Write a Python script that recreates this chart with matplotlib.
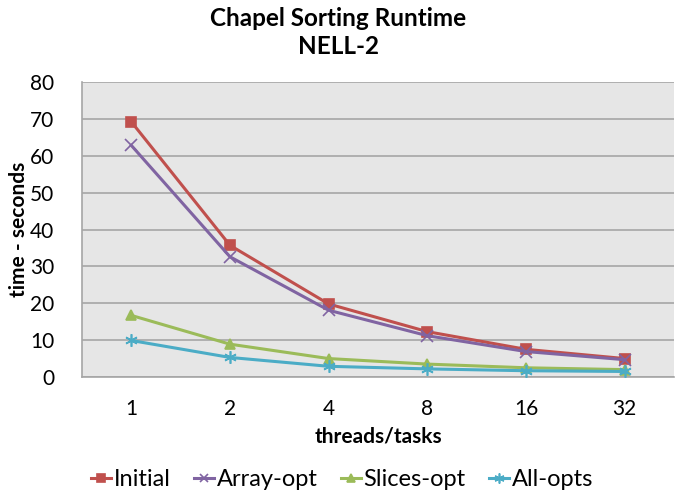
import matplotlib
matplotlib.use("Agg")
import matplotlib.pyplot as plt
import numpy as np

categories = ["1", "2", "4", "8", "16", "32"]
initial = [69.2, 35.7, 19.8, 12.3, 7.5, 5.0]
array_opt = [62.8, 32.6, 18.1, 11.2, 6.9, 4.7]
slices_opt = [16.7, 8.9, 5.0, 3.5, 2.5, 2.0]
all_opts = [9.9, 5.3, 2.9, 2.2, 1.7, 1.5]
y_ticks = [0, 10, 20, 30, 40, 50, 60, 70, 80]

plt.rcParams['font.family'] = ['Lato', 'DejaVu Sans']

fig = plt.figure(figsize=(6.83, 4.97), dpi=100)
ax = fig.add_axes([82/683, 1-377/497, (674-82)/683, (377-82)/497])
ax.set_facecolor('#e6e6e6')

x = np.arange(len(categories))
series = [
    ("Initial", initial, '#C0504D', 's', 7),
    ("Array-opt", array_opt, '#8064A2', 'x', 8),
    ("Slices-opt", slices_opt, '#9BBB59', '^', 7),
    ("All-opts", all_opts, '#4BACC6', (6, 2, 0), 9),
]
for name, vals, col, mk, ms in series:
    ax.plot(x, vals, color=col, lw=2.2, marker=mk, ms=ms, mew=1.2,
            mfc=col, mec=col, label=name, zorder=3)

ax.set_xlim(-0.5, len(categories) - 0.5)
ax.set_ylim(0, 80)
ax.set_yticks(y_ticks)
ax.set_yticklabels([str(v) for v in y_ticks], fontsize=15)
ax.set_xticks(x)
ax.set_xticklabels(categories, fontsize=15)
ax.tick_params(axis='x', length=0, pad=16)
ax.tick_params(axis='y', length=0, pad=20)
ax.yaxis.grid(True, color='#a6a6a6', lw=1.2)
ax.set_axisbelow(True)
for s in ['top', 'right']:
    ax.spines[s].set_visible(False)
for s in ['left', 'bottom']:
    ax.spines[s].set_color('#a6a6a6')
    ax.spines[s].set_linewidth(1.2)

ax.set_xlabel("threads/tasks", fontsize=15, fontweight='bold', labelpad=5)
ax.set_ylabel("time - seconds", fontsize=15, fontweight='bold')
ax.yaxis.set_label_coords((29 - 82) / 592, 0.5)

fig.text(338/683, 1 - 18/497, "Chapel Sorting Runtime",
         ha='center', va='center', fontsize=17.5, fontweight='bold')
fig.text(338/683, 1 - 47/497, "NELL-2", ha='center', va='center',
         fontsize=17.5, fontweight='bold')

leg = fig.legend(loc='center', bbox_to_anchor=(342/683, 1 - 480/497), ncol=4,
                 frameon=False, fontsize=17, handlelength=0.85, handletextpad=0.1,
                 columnspacing=1.0, markerscale=0.8, borderpad=0)

fig.savefig("out.png", dpi=100)
